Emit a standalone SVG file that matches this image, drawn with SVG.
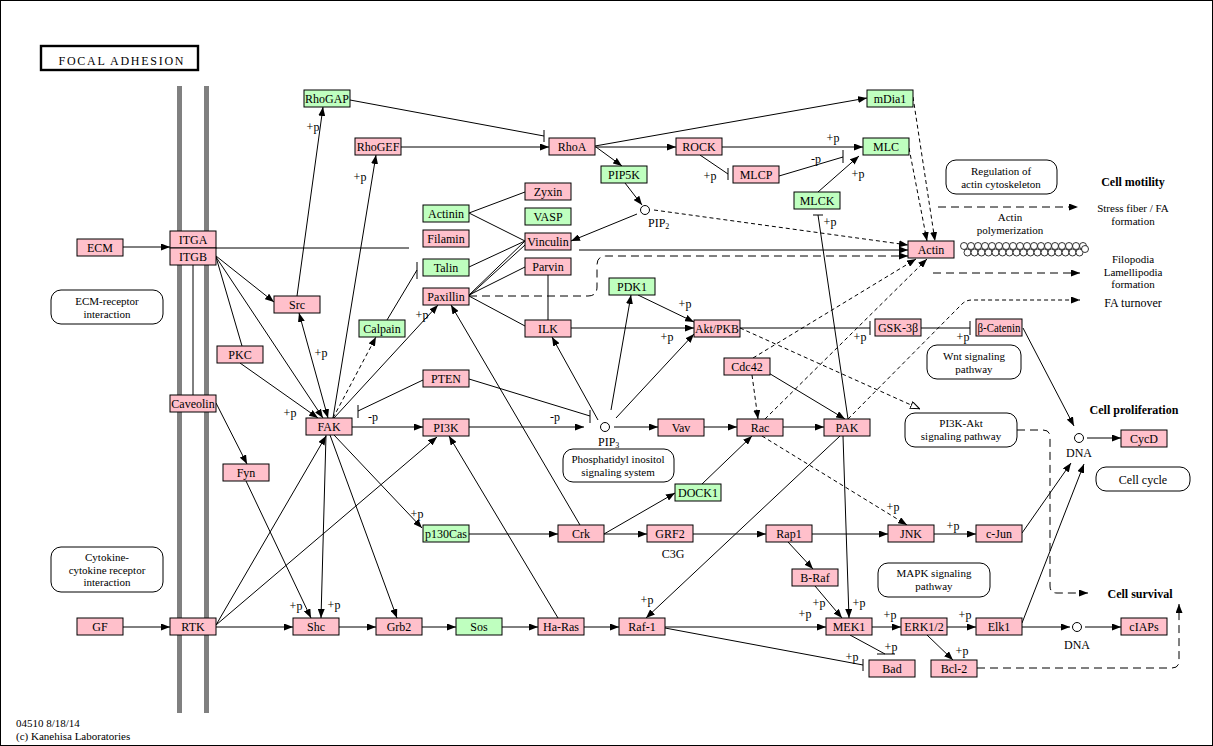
<svg xmlns="http://www.w3.org/2000/svg" width="1213" height="746" viewBox="0 0 1213 746">
<style>
text{font-family:"Liberation Serif","Times New Roman",serif;font-size:12px;fill:#000}
.n rect{stroke:#000;stroke-width:1}
.p rect{fill:#FFC0CB}
.g rect{fill:#BFFFBF}
.n text,.c text{text-anchor:middle}
.b{font-weight:bold;text-anchor:middle}
.m{text-anchor:middle}
.s{font-size:11px}
.pw rect{fill:#fff;stroke:#000;stroke-width:1}
#edges path{fill:none;stroke:#000;stroke-width:1}
#edges .a{marker-end:url(#arr)}
#edges .d{stroke-dasharray:4,3}
#edges .D{stroke-dasharray:8,5}
</style>
<defs>
<marker id="arr" viewBox="0 0 9 7" refX="9" refY="3.5" markerWidth="9" markerHeight="7" markerUnits="userSpaceOnUse" orient="auto-start-reverse"><path d="M0,0 L9,3.5 L0,7 z" fill="#000" stroke="none"/></marker>
<marker id="open" viewBox="0 0 10 8" refX="10" refY="4" markerWidth="10" markerHeight="8" markerUnits="userSpaceOnUse" orient="auto"><path d="M0.5,0.5 L9.5,4 L0.5,7.5 z" fill="#fff" stroke="#000" stroke-width="1"/></marker>
</defs>
<rect x="0.5" y="0.5" width="1212" height="745" fill="#fff" stroke="#000" stroke-width="1"/>
<g id="title"><rect x="41" y="46" width="157" height="24" fill="#fff" stroke="#000" stroke-width="2.4"/><text x="121" y="65" font-size="15" text-anchor="middle" textLength="125" lengthAdjust="spacing">FOCAL ADHESION</text></g>
<g id="membrane"><rect x="177" y="86" width="5" height="627" fill="#808080"/><rect x="204" y="86" width="5" height="627" fill="#808080"/></g>

<g id="edges">
<path class="a" d="M123,247 L170,247"/>
<path d="M216,248 L409,248"/>
<path class="a" d="M579,250 L908,250"/>
<path class="a d" d="M654,210 L908,245"/>
<path class="a D" d="M469,296 H588 Q597,296 597,287 V265 Q597,256 606,256 H908"/>
<path class="a" d="M216,256 L274,302"/>
<path d="M216,257 L242,346"/>
<path class="a" d="M216,257 L323,418"/>
<path class="a" d="M240,363 L318,418"/>
<path class="a" style="marker-start:url(#arr)" d="M328,418 L299,313"/>
<path class="a" d="M297,296 L323,107"/>
<path class="a" d="M333,418 L376,155"/>
<path class="a d" d="M333,418 L376,337"/>
<path d="M387,320 L417,270 M417,262 V279"/>
<path class="a" d="M334,418 L438,305"/>
<path class="a" d="M580,525 L451,305"/>
<path class="a" d="M558,618 L449,436"/>
<path class="a" d="M352,427 L423,427"/>
<path d="M423,380 L358,411 M358,405 V418"/>
<path d="M469,379 L590,416 M590,410 V423"/>
<path class="a" d="M469,427 L584,427"/>
<path class="a" d="M598,420 L552,337"/>
<path class="a" d="M611,410 L631,295"/>
<path class="a" d="M616,418 L694,334"/>
<path class="a" d="M614,427 L658,427"/>
<path class="a" d="M704,427 L737,427"/>
<path class="a" d="M783,427 L824,427"/>
<path class="a" d="M638,295 L694,322"/>
<path class="a" d="M571,328 L694,328"/>
<path d="M548,275 L548,320"/>
<path d="M469,213 L525,192"/>
<path d="M469,213 L525,241"/>
<path d="M469,267 L525,241"/>
<path d="M469,295 L525,241"/>
<path d="M469,296 L525,245"/>
<path d="M469,295 L525,267"/>
<path d="M469,296 L525,326"/>
<path class="a" d="M596,147 L622,166"/>
<path class="a" d="M625,183 L642,205"/>
<path class="a" d="M637,214 L571,241"/>
<path class="a" d="M401,147 L549,147"/>
<path d="M350,100 L544,136 M544,130 V142"/>
<path class="a" d="M595,146 L867,98"/>
<path class="a" d="M595,147 L676,147"/>
<path class="a" d="M722,147 L863,147"/>
<path d="M700,155 L728,174 M728,168 V180"/>
<path d="M779,176 L843,157 M843,150 V163"/>
<path class="a" d="M818,192 L859,156"/>
<path class="a d" d="M913,97 L935,241"/>
<path class="a d" d="M909,148 L927,241"/>
<path d="M848,419 L818,215 M813,215 H823"/>
<path d="M740,328 L870,328 M870,321 V335"/>
<path d="M921,328 L970,328 M970,321 V335"/>
<path class="a" d="M1023,328 L1074,426"/>
<path class="a" d="M1087,438 L1121,438"/>
<path class="d" style="marker-end:url(#open)" d="M740,328 L920,409"/>
<path class="a d" d="M753,358 L916,259"/>
<path class="a d" d="M765,419 L927,259"/>
<path class="a d" d="M752,375 L758,419"/>
<path class="a" d="M757,366 L845,419"/>
<path class="a d" d="M848,419 L962,304 Q966,300 972,300 H1080"/>
<path class="a d" d="M762,436 L907,525"/>
<path class="a" d="M702,484 L752,436"/>
<path class="a" d="M604,534 L675,493"/>
<path class="a" d="M604,534 L647,534"/>
<path class="a" d="M693,534 L766,534"/>
<path class="a" d="M812,534 L888,534"/>
<path class="a" d="M788,542 L813,569"/>
<path class="a" d="M815,586 L842,618"/>
<path class="a" d="M843,436 L849,618"/>
<path class="a" d="M840,436 L646,618"/>
<path class="a" d="M665,627 L826,627"/>
<path d="M665,628 L863,665 M863,659 V671"/>
<path d="M850,635 L885,654 M877,654 H895"/>
<path class="a" d="M872,627 L901,627"/>
<path class="a" d="M947,627 L976,627"/>
<path class="a" d="M927,635 L953,660"/>
<path class="a" d="M1022,627 L1070,627"/>
<path class="a" d="M1085,627 L1121,627"/>
<path class="a" d="M1022,533 L1071,463"/>
<path class="a" d="M1022,623 L1084,464"/>
<path class="a" d="M934,534 L976,534"/>
<path class="a" d="M326,435 L321,618"/>
<path class="a" d="M246,481 L311,618"/>
<path class="a" d="M330,435 L397,618"/>
<path class="a" d="M216,625 L326,436"/>
<path class="a" d="M216,625 L437,437"/>
<path class="a" d="M216,627 L293,627"/>
<path class="a" d="M339,627 L376,627"/>
<path class="a" d="M422,627 L456,627"/>
<path class="a" d="M502,627 L538,627"/>
<path class="a" d="M584,627 L619,627"/>
<path class="a" d="M123,627 L170,627"/>
<path class="a" d="M334,435 L422,528"/>
<path class="a" d="M469,534 L558,534"/>
<path class="a" d="M216,403 L247,464"/>
<path d="M193,265 V395"/>
<path class="a D" d="M938,207 H1078"/>
<path class="a D" d="M933,273 H1080"/>
<path class="a D" d="M1017,430 H1043 Q1050,430 1050,437 V586 Q1050,593 1057,593 H1088"/>
<path class="a D" d="M977,668 H1172 Q1179,668 1179,661 V604"/>
</g>

<g id="edge-labels" class="c">
<text x="313" y="131">+p</text>
<text x="360" y="181">+p</text>
<text x="321" y="357">+p</text>
<text x="290" y="417">+p</text>
<text x="373" y="421">-p</text>
<text x="422" y="319">+p</text>
<text x="685" y="308">+p</text>
<text x="667" y="341">+p</text>
<text x="555" y="421">-p</text>
<text x="860" y="341">+p</text>
<text x="963" y="341">+p</text>
<text x="710" y="180">+p</text>
<text x="833" y="142">+p</text>
<text x="816" y="163">-p</text>
<text x="858" y="178">+p</text>
<text x="830" y="226">+p</text>
<text x="417" y="518">+p</text>
<text x="296" y="610">+p</text>
<text x="334" y="609">+p</text>
<text x="647" y="604">+p</text>
<text x="893" y="511">+p</text>
<text x="953" y="530">+p</text>
<text x="819" y="607">+p</text>
<text x="859" y="607">+p</text>
<text x="805" y="618">+p</text>
<text x="890" y="619">+p</text>
<text x="965" y="619">+p</text>
<text x="891" y="651">+p</text>
<text x="852" y="661">+p</text>
<text x="962" y="655">+p</text>
<text x="673" y="558">C3G</text>
</g>

<g id="compounds" fill="#fff" stroke="#000" stroke-width="1">
<circle cx="645" cy="210" r="4.5"/>
<circle cx="605" cy="427" r="4.5"/>
<circle cx="1079" cy="438" r="4.5"/>
<circle cx="1077" cy="627" r="4.5"/>
</g>
<g id="compound-labels">
<text x="648" y="227">PIP<tspan font-size="8" dy="2">2</tspan></text>
<text x="598" y="446">PIP<tspan font-size="8" dy="2">3</tspan></text>
<text class="m" x="1079" y="457">DNA</text>
<text class="m" x="1077" y="649">DNA</text>
</g>

<g id="n-RhoGAP" class="n g"><rect x="304" y="90" width="46" height="17"/><text x="327" y="103">RhoGAP</text></g>
<g id="n-PIP5K" class="n g"><rect x="601" y="166" width="46" height="17"/><text x="624" y="179">PIP5K</text></g>
<g id="n-Actinin" class="n g"><rect x="423" y="205" width="46" height="17"/><text x="446" y="218">Actinin</text></g>
<g id="n-VASP" class="n g"><rect x="525" y="208" width="46" height="17"/><text x="548" y="221">VASP</text></g>
<g id="n-Talin" class="n g"><rect x="423" y="259" width="46" height="17"/><text x="446" y="272">Talin</text></g>
<g id="n-Calpain" class="n g"><rect x="359" y="320" width="46" height="17"/><text x="382" y="333">Calpain</text></g>
<g id="n-PDK1" class="n g"><rect x="609" y="278" width="46" height="17"/><text x="632" y="291">PDK1</text></g>
<g id="n-mDia1" class="n g"><rect x="867" y="90" width="46" height="17"/><text x="890" y="103">mDia1</text></g>
<g id="n-MLC" class="n g"><rect x="863" y="138" width="46" height="17"/><text x="886" y="151">MLC</text></g>
<g id="n-MLCK" class="n g"><rect x="794" y="192" width="46" height="17"/><text x="817" y="205">MLCK</text></g>
<g id="n-DOCK1" class="n g"><rect x="675" y="484" width="46" height="17"/><text x="698" y="497">DOCK1</text></g>
<g id="n-p130Cas" class="n g"><rect x="423" y="525" width="46" height="17"/><text x="446" y="538">p130Cas</text></g>
<g id="n-Sos" class="n g"><rect x="456" y="618" width="46" height="17"/><text x="479" y="631">Sos</text></g>

<g id="n-RhoGEF" class="n p"><rect x="355" y="138" width="46" height="17"/><text x="378" y="151">RhoGEF</text></g>
<g id="n-ECM" class="n p"><rect x="77" y="239" width="46" height="17"/><text x="100" y="252">ECM</text></g>
<g id="n-ITGA" class="n p"><rect x="170" y="231" width="46" height="17"/><text x="193" y="244">ITGA</text></g>
<g id="n-ITGB" class="n p"><rect x="170" y="248" width="46" height="17"/><text x="193" y="261">ITGB</text></g>
<g id="n-RhoA" class="n p"><rect x="549" y="138" width="46" height="17"/><text x="572" y="151">RhoA</text></g>
<g id="n-ROCK" class="n p"><rect x="676" y="138" width="46" height="17"/><text x="699" y="151">ROCK</text></g>
<g id="n-MLCP" class="n p"><rect x="733" y="166" width="46" height="17"/><text x="756" y="179">MLCP</text></g>
<g id="n-Zyxin" class="n p"><rect x="525" y="183" width="46" height="17"/><text x="548" y="196">Zyxin</text></g>
<g id="n-Vinculin" class="n p"><rect x="525" y="233" width="46" height="17"/><text x="548" y="246">Vinculin</text></g>
<g id="n-Filamin" class="n p"><rect x="423" y="230" width="46" height="17"/><text x="446" y="243">Filamin</text></g>
<g id="n-Src" class="n p"><rect x="274" y="296" width="46" height="17"/><text x="297" y="309">Src</text></g>
<g id="n-PKC" class="n p"><rect x="217" y="346" width="46" height="17"/><text x="240" y="359">PKC</text></g>
<g id="n-Caveolin" class="n p"><rect x="170" y="395" width="46" height="17"/><text x="193" y="408">Caveolin</text></g>
<g id="n-FAK" class="n p"><rect x="306" y="418" width="46" height="17"/><text x="329" y="431">FAK</text></g>
<g id="n-Fyn" class="n p"><rect x="223" y="464" width="46" height="17"/><text x="246" y="477">Fyn</text></g>
<g id="n-Parvin" class="n p"><rect x="525" y="258" width="46" height="17"/><text x="548" y="271">Parvin</text></g>
<g id="n-Paxillin" class="n p"><rect x="423" y="288" width="46" height="17"/><text x="446" y="301">Paxillin</text></g>
<g id="n-ILK" class="n p"><rect x="525" y="320" width="46" height="17"/><text x="548" y="333">ILK</text></g>
<g id="n-AktPKB" class="n p"><rect x="694" y="320" width="46" height="17"/><text x="717" y="333" textLength="44" lengthAdjust="spacingAndGlyphs">Akt/PKB</text></g>
<g id="n-Cdc42" class="n p"><rect x="724" y="358" width="46" height="17"/><text x="747" y="371">Cdc42</text></g>
<g id="n-PTEN" class="n p"><rect x="423" y="370" width="46" height="17"/><text x="446" y="383">PTEN</text></g>
<g id="n-PI3K" class="n p"><rect x="423" y="419" width="46" height="17"/><text x="446" y="432">PI3K</text></g>
<g id="n-Vav" class="n p"><rect x="658" y="419" width="46" height="17"/><text x="681" y="432">Vav</text></g>
<g id="n-Rac" class="n p"><rect x="737" y="419" width="46" height="17"/><text x="760" y="432">Rac</text></g>
<g id="n-PAK" class="n p"><rect x="824" y="419" width="46" height="17"/><text x="847" y="432">PAK</text></g>
<g id="n-GSK3b" class="n p"><rect x="875" y="319" width="46" height="17"/><text x="898" y="332">GSK-3β</text></g>
<g id="n-bCatenin" class="n p"><rect x="976" y="319" width="46" height="17"/><text x="999" y="332" textLength="43" lengthAdjust="spacingAndGlyphs">β-Catenin</text></g>
<g id="n-Actin" class="n p"><rect x="908" y="241" width="46" height="17"/><text x="931" y="254">Actin</text></g>
<g id="n-CycD" class="n p"><rect x="1121" y="430" width="46" height="17"/><text x="1144" y="443">CycD</text></g>
<g id="n-JNK" class="n p"><rect x="888" y="525" width="46" height="17"/><text x="911" y="538">JNK</text></g>
<g id="n-cJun" class="n p"><rect x="976" y="525" width="46" height="17"/><text x="999" y="538">c-Jun</text></g>
<g id="n-BRaf" class="n p"><rect x="792" y="569" width="46" height="17"/><text x="815" y="582">B-Raf</text></g>
<g id="n-MEK1" class="n p"><rect x="826" y="618" width="46" height="17"/><text x="849" y="631">MEK1</text></g>
<g id="n-ERK12" class="n p"><rect x="901" y="618" width="46" height="17"/><text x="924" y="631">ERK1/2</text></g>
<g id="n-Elk1" class="n p"><rect x="976" y="618" width="46" height="17"/><text x="999" y="631">Elk1</text></g>
<g id="n-cIAPs" class="n p"><rect x="1121" y="618" width="46" height="17"/><text x="1144" y="631">cIAPs</text></g>
<g id="n-Bad" class="n p"><rect x="869" y="660" width="46" height="17"/><text x="892" y="673">Bad</text></g>
<g id="n-Bcl2" class="n p"><rect x="931" y="660" width="46" height="17"/><text x="954" y="673">Bcl-2</text></g>
<g id="n-Crk" class="n p"><rect x="558" y="525" width="46" height="17"/><text x="581" y="538">Crk</text></g>
<g id="n-GRF2" class="n p"><rect x="647" y="525" width="46" height="17"/><text x="670" y="538">GRF2</text></g>
<g id="n-Rap1" class="n p"><rect x="766" y="525" width="46" height="17"/><text x="789" y="538">Rap1</text></g>
<g id="n-HaRas" class="n p"><rect x="538" y="618" width="46" height="17"/><text x="561" y="631">Ha-Ras</text></g>
<g id="n-Raf1" class="n p"><rect x="619" y="618" width="46" height="17"/><text x="642" y="631">Raf-1</text></g>
<g id="n-GF" class="n p"><rect x="77" y="618" width="46" height="17"/><text x="100" y="631">GF</text></g>
<g id="n-RTK" class="n p"><rect x="170" y="618" width="46" height="17"/><text x="193" y="631">RTK</text></g>
<g id="n-Shc" class="n p"><rect x="293" y="618" width="46" height="17"/><text x="316" y="631">Shc</text></g>
<g id="n-Grb2" class="n p"><rect x="376" y="618" width="46" height="17"/><text x="399" y="631">Grb2</text></g>

<g id="pw-regulation" class="pw"><rect x="946" y="160" width="111" height="34" rx="10"/><text class="m s"><tspan x="1001" y="175">Regulation of</tspan><tspan x="1001" dy="12.7">actin cytoskeleton</tspan></text></g>
<g id="pw-ecm" class="pw"><rect x="51" y="290" width="112" height="34" rx="10"/><text class="m s"><tspan x="107" y="305">ECM-receptor</tspan><tspan x="107" dy="12.7">interaction</tspan></text></g>
<g id="pw-cytokine" class="pw"><rect x="51" y="547" width="112" height="45" rx="10"/><text class="m s"><tspan x="107" y="561">Cytokine-</tspan><tspan x="107" dy="12.7">cytokine receptor</tspan><tspan x="107" dy="12.7">interaction</tspan></text></g>
<g id="pw-pi3kakt" class="pw"><rect x="905" y="413" width="112" height="34" rx="10"/><text class="m s"><tspan x="961" y="427">PI3K-Akt</tspan><tspan x="961" dy="12.7">signaling pathway</tspan></text></g>
<g id="pw-wnt" class="pw"><rect x="927" y="345" width="94" height="34" rx="10"/><text class="m s"><tspan x="974" y="360">Wnt signaling</tspan><tspan x="974" dy="12.7">pathway</tspan></text></g>
<g id="pw-phos" class="pw"><rect x="563" y="449" width="111" height="33" rx="10"/><text class="m s"><tspan x="618" y="463">Phosphatidyl inositol</tspan><tspan x="618" dy="12.7">signaling system</tspan></text></g>
<g id="pw-mapk" class="pw"><rect x="878" y="563" width="112" height="34" rx="10"/><text class="m s"><tspan x="934" y="577">MAPK signaling</tspan><tspan x="934" dy="12.7">pathway</tspan></text></g>
<g id="pw-cellcycle" class="pw"><rect x="1096" y="467" width="94" height="24" rx="10"/><text class="m" x="1143" y="484">Cell cycle</text></g>

<g id="actin-polymer" fill="#fff" stroke="#000" stroke-width="0.8">
<circle cx="964" cy="246" r="3.5"/><circle cx="971" cy="246" r="3.5"/><circle cx="978" cy="246" r="3.5"/><circle cx="985" cy="246" r="3.5"/><circle cx="992" cy="246" r="3.5"/><circle cx="999" cy="246" r="3.5"/><circle cx="1006" cy="246" r="3.5"/><circle cx="1013" cy="246" r="3.5"/><circle cx="1020" cy="246" r="3.5"/><circle cx="1027" cy="246" r="3.5"/><circle cx="1034" cy="246" r="3.5"/><circle cx="1041" cy="246" r="3.5"/><circle cx="1048" cy="246" r="3.5"/><circle cx="1055" cy="246" r="3.5"/><circle cx="1062" cy="246" r="3.5"/><circle cx="1069" cy="246" r="3.5"/><circle cx="1076" cy="246" r="3.5"/><circle cx="1083" cy="246" r="3.5"/>
<circle cx="967.5" cy="252.5" r="3.5"/><circle cx="974.5" cy="252.5" r="3.5"/><circle cx="981.5" cy="252.5" r="3.5"/><circle cx="988.5" cy="252.5" r="3.5"/><circle cx="995.5" cy="252.5" r="3.5"/><circle cx="1002.5" cy="252.5" r="3.5"/><circle cx="1009.5" cy="252.5" r="3.5"/><circle cx="1016.5" cy="252.5" r="3.5"/><circle cx="1023.5" cy="252.5" r="3.5"/><circle cx="1030.5" cy="252.5" r="3.5"/><circle cx="1037.5" cy="252.5" r="3.5"/><circle cx="1044.5" cy="252.5" r="3.5"/><circle cx="1051.5" cy="252.5" r="3.5"/><circle cx="1058.5" cy="252.5" r="3.5"/><circle cx="1065.5" cy="252.5" r="3.5"/><circle cx="1072.5" cy="252.5" r="3.5"/><circle cx="1079.5" cy="252.5" r="3.5"/><circle cx="1085" cy="249" r="3.5"/>
</g>

<g id="outcomes">
<text class="m s"><tspan x="1010" y="221">Actin</tspan><tspan x="1010" dy="12.7">polymerization</tspan></text>
<text class="b" x="1133" y="186">Cell motility</text>
<text class="m s"><tspan x="1133" y="212">Stress fiber / FA</tspan><tspan x="1133" dy="12.7">formation</tspan></text>
<text class="m s"><tspan x="1133" y="263">Filopodia</tspan><tspan x="1133" dy="12.7">Lamellipodia</tspan><tspan x="1133" dy="12.7">formation</tspan></text>
<text class="m" x="1133" y="307">FA turnover</text>
<text class="b" x="1134" y="414">Cell proliferation</text>
<text class="b" x="1140" y="598">Cell survival</text>
</g>
<g id="footer">
<text class="s"><tspan x="16" y="727">04510 8/18/14</tspan><tspan x="16" dy="13">(c) Kanehisa Laboratories</tspan></text>
</g>
</svg>
